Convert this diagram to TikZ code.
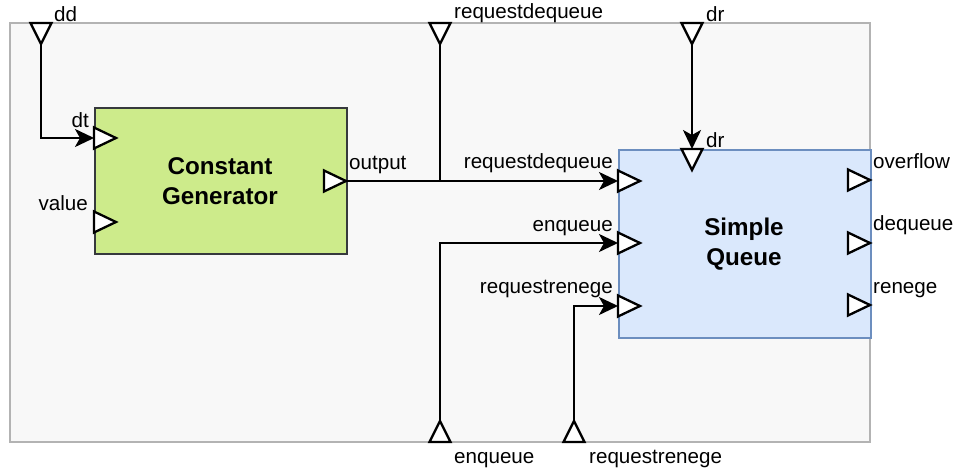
\documentclass[tikz,border=0pt]{standalone}
\usepackage{fontspec}
\setmainfont{Liberation Sans}
\usetikzlibrary{arrows.meta}

\definecolor{framefill}{HTML}{F8F8F8}
\definecolor{frameline}{HTML}{B3B3B3}
\definecolor{genfill}{HTML}{CDEB8B}
\definecolor{genline}{HTML}{36393D}
\definecolor{queuefill}{HTML}{DAE8FC}
\definecolor{queueline}{HTML}{6C8EBF}

% port triangles: base centred on the given coordinate, apex 22 units away
\newcommand\portR[1]{\draw[porttri] (#1) ++(0,-10.5) -- ++(22,10.5) -- ++(-22,10.5) -- cycle;}
\newcommand\portRtip[1]{\draw[porttri] (#1) ++(-22,-10.5) -- ++(22,10.5) -- ++(-22,10.5) -- cycle;}
\newcommand\portD[1]{\draw[porttri] (#1) ++(-10.5,0) -- ++(10.5,21) -- ++(10.5,-21) -- cycle;}
\newcommand\portU[1]{\draw[porttri] (#1) ++(-10.5,0) -- ++(10.5,-21) -- ++(10.5,21) -- cycle;}

\tikzset{
  porttri/.style={draw=black, fill=white, line width=2.3pt, line join=miter},
  conn/.style={draw=black, line width=2.3pt, -{Stealth[length=19pt,width=18pt,inset=5pt]}},
  wire/.style={draw=black, line width=2.3pt},
  lbl/.style={inner sep=0pt, font=\fontsize{20.6}{24}\selectfont},
  title/.style={inner sep=0pt, align=center, font=\fontsize{24.2}{29.5}\selectfont\bfseries},
}

\begin{document}
\begin{tikzpicture}[x=1pt,y=-1pt]
\useasboundingbox (0,0) rectangle (959,471);

% enclosing model
\draw[fill=framefill, draw=frameline, line width=1.5pt] (10,23) rectangle (870,442);

% blocks
\node[draw=genline, fill=genfill, line width=2pt, minimum width=252pt, minimum height=146pt, inner sep=0pt, anchor=north west] (gen) at (94,107) {};
\node[title] (gentitle) at (220,181) {Constant\\Generator};

\node[draw=queueline, fill=queuefill, line width=1.5pt, minimum width=252pt, minimum height=188pt, inner sep=0pt, anchor=north west] (queue) at (618,149) {};
\node[title] (queuetitle) at (744,244) {Simple\\Queue};

% port positions
\coordinate (topdd) at (41,23);
\coordinate (toprdq) at (440,23);
\coordinate (topdr) at (692,23);
\coordinate (boten) at (440,442);
\coordinate (botrr) at (574,442);
\coordinate (gendt) at (94,138);
\coordinate (genval) at (94,222);
\coordinate (genout) at (346,181);
\coordinate (qrdq) at (618,181);
\coordinate (qen) at (618,243);
\coordinate (qrr) at (618,306);
\coordinate (qdr) at (692,149);
\coordinate (qof) at (870,180);
\coordinate (qdq) at (870,243);
\coordinate (qrn) at (870,305);

% connectors
\coordinate (topddtip) at (41,44);
\coordinate (toprdqtip) at (440,44);
\coordinate (topdrtip) at (692,44);
\coordinate (boten tip) at (440,421);
\coordinate (botrrtip) at (574,421);

\draw[conn] (topddtip) |- (gendt);
\draw[conn] (genout) -- (qrdq);
\draw[wire] (toprdqtip) -- (toprdqtip |- qrdq);
\draw[conn] (topdrtip) -- (qdr);
\draw[conn] (boten tip) |- (qen);
\draw[conn] (botrrtip) |- (qrr);

% port triangles
\portD{topdd}
\portD{toprdq}
\portD{topdr}
\portU{boten}
\portU{botrr}
\portR{gendt}
\portR{genval}
\portRtip{genout}
\portR{qrdq}
\portR{qen}
\portR{qrr}
\portD{qdr}
\portRtip{qof}
\portRtip{qdq}
\portRtip{qrn}

% port labels
\node[lbl, anchor=base west] (l1) at (54,21) {dd};
\node[lbl, anchor=base west] (l2) at (454,19) {requestdequeue};
\node[lbl, anchor=base west] (l3) at (706,21) {dr};
\node[lbl, anchor=base east] (l4) at (89,127) {dt};
\node[lbl, anchor=base east] (l5) at (88,210) {value};
\node[lbl, anchor=base west] (l6) at (349,169) {output};
\node[lbl, anchor=base east] (l7) at (613,168) {requestdequeue};
\node[lbl, anchor=base east] (l8) at (613,231) {enqueue};
\node[lbl, anchor=base east] (l9) at (613,293) {requestrenege};
\node[lbl, anchor=base west] (l10) at (706,147) {dr};
\node[lbl, anchor=base west] (l11) at (873,168) {overflow};
\node[lbl, anchor=base west] (l12) at (873,230) {dequeue};
\node[lbl, anchor=base west] (l13) at (873,293) {renege};
\node[lbl, anchor=base west] (l14) at (454,463) {enqueue};
\node[lbl, anchor=base west] (l15) at (589,463) {requestrenege};
\end{tikzpicture}
\end{document}
